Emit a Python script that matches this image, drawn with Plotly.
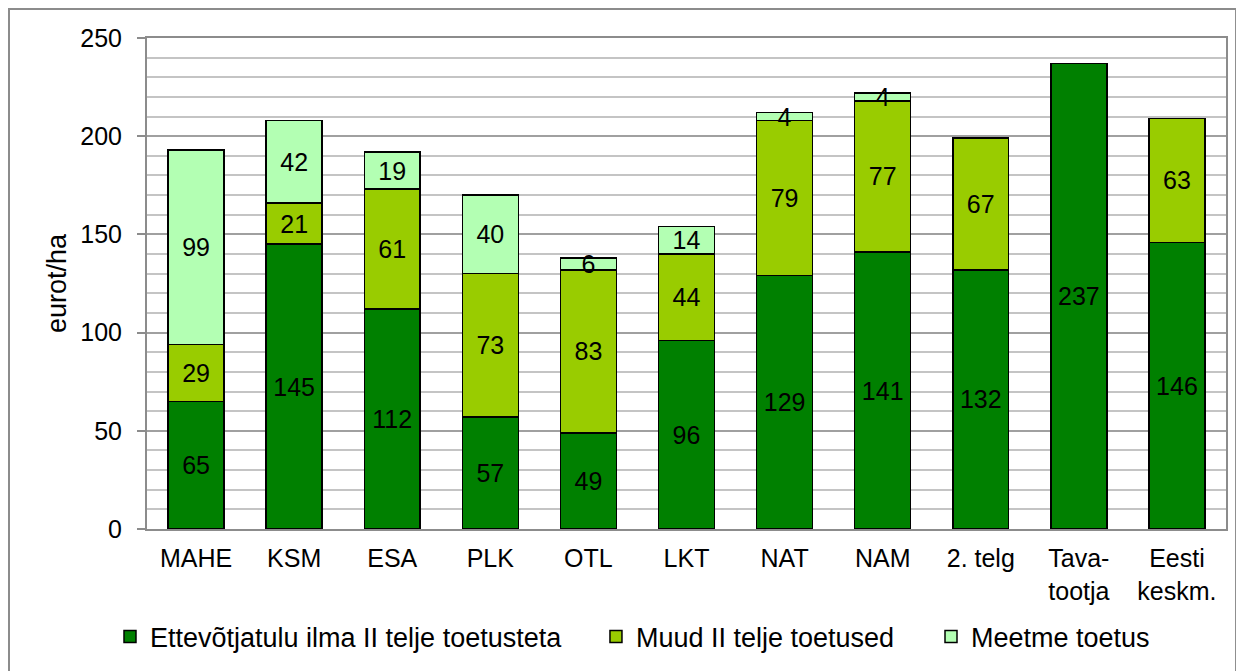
import plotly.graph_objects as go

kategooriad = ['MAHE', 'KSM', 'ESA', 'PLK', 'OTL', 'LKT', 'NAT', 'NAM', '2. telg',
               'Tava-<br>tootja', 'Eesti<br>keskm.']
ettevotjatulu = [65, 145, 112, 57, 49, 96, 129, 141, 132, 237, 146]
muud_toetused = [29, 21, 61, 73, 83, 44, 79, 77, 67, None, 63]
meetme_toetus = [99, 42, 19, 40, 6, 14, 4, 4, None, None, None]

seeriad = [
    ('Ettevõtjatulu ilma II telje toetusteta', ettevotjatulu, '#008000', 'legend', -0.0343),
    ('Muud II telje toetused', muud_toetused, '#99CC00', 'legend2', 0.4161),
    ('Meetme toetus', meetme_toetus, '#B3FFB3', 'legend3', 0.7266),
]

FONT = 'Liberation Sans, Arial, sans-serif'

fig = go.Figure()
for nimi, vaartused, varv, leg, lx in seeriad:
    xs = [k for k, v in zip(kategooriad, vaartused) if v is not None]
    ys = [v for v in vaartused if v is not None]
    fig.add_trace(go.Bar(
        x=xs, y=ys, name=nimi, legend=leg,
        marker=dict(color=varv, line=dict(color='black', width=1.5)),
        text=ys, texttemplate='%{text}',
        textposition='inside', insidetextanchor='middle',
        textangle=0, constraintext='none',
        textfont=dict(family=FONT, size=25, color='black'),
        cliponaxis=False,
    ))
    fig.layout[leg] = dict(orientation='h', x=lx, xanchor='left', y=-0.22, yanchor='middle',
                           font=dict(family=FONT, size=27), bgcolor='rgba(0,0,0,0)')

# välimine raam ümber kogu joonise
fig.add_shape(type='rect', xref='paper', yref='paper',
              x0=-0.1279, x1=1.0093, y0=-0.32, y1=1.059,
              line=dict(color='#8c8c8c', width=2), layer='below')

fig.update_layout(
    barmode='stack',
    bargap=0.43,
    width=1244, height=671,
    margin=dict(l=139, r=26, t=30, b=150),
    paper_bgcolor='white', plot_bgcolor='white',
    font=dict(family=FONT, size=25, color='black'),
    showlegend=True,
    yaxis=dict(
        range=[0, 250], dtick=50, showgrid=True, gridcolor='#a0a0a0', gridwidth=2,
        minor=dict(dtick=10, showgrid=True, gridcolor='#c4c4c4', gridwidth=1.5),
        showline=True, linecolor='#8c8c8c', linewidth=2, mirror=True,
        ticks='outside', ticklen=8, tickcolor='#8c8c8c', tickwidth=2,
        ticklabelstandoff=10, zeroline=False,
        title=dict(text='eurot/ha', font=dict(size=27), standoff=6),
    ),
    xaxis=dict(
        showline=True, linecolor='#8c8c8c', linewidth=2, mirror=True,
        ticks='outside', ticklen=6, tickcolor='rgba(0,0,0,0)',
        showgrid=False,
    ),
)

fig.write_html('out.html')
